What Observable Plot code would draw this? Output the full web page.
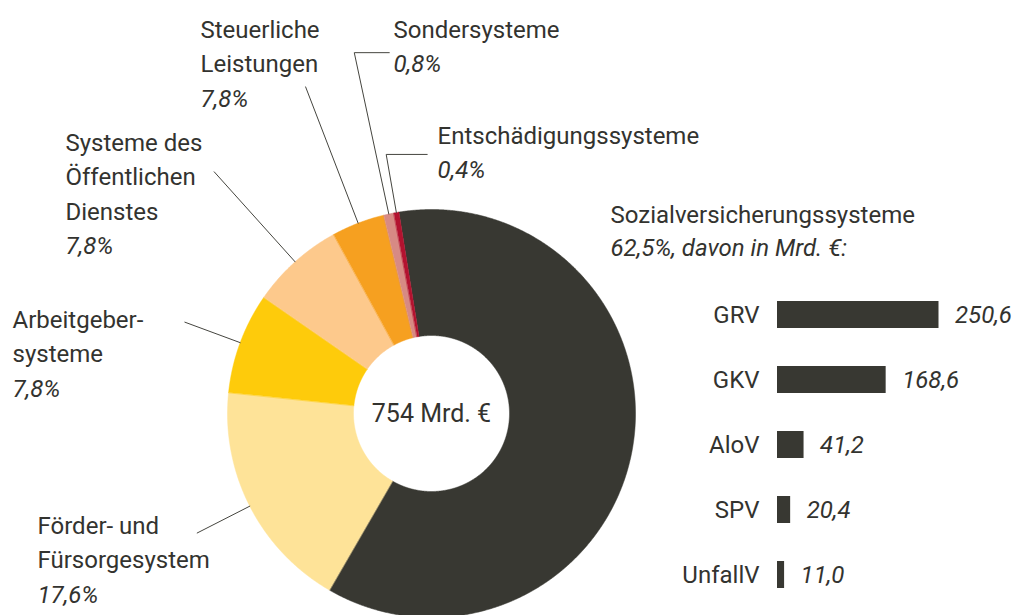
<!DOCTYPE html>
<html>
<head>
<meta charset="utf-8">
<script src="https://cdn.jsdelivr.net/npm/d3@7"></script>
<script src="https://cdn.jsdelivr.net/npm/@observablehq/plot@0.6"></script>
<style>
  body { margin: 0; background: #fff; }
  #wrap { position: relative; width: 1022px; height: 615px; overflow: hidden; font-family: Roboto, sans-serif; }
  #wrap svg { position: absolute; overflow: visible; }
</style>
</head>
<body>
<div id="wrap"></div>
<script>
// ---------- data ----------
const categories = ["Sozialversicherungssysteme", "Förder- und Fürsorgesystem", "Arbeitgebersysteme",
  "Systeme des Öffentlichen Dienstes", "Steuerliche Leistungen", "Sondersysteme", "Entschädigungssysteme"];
const labelNames = ["Sozialversicherungssysteme", "Förder- und\nFürsorgesystem", "Arbeitgeber-\nsysteme",
  "Systeme des\nÖffentlichen\nDienstes", "Steuerliche\nLeistungen", "Sondersysteme", "Entschädigungssysteme"];
const shareLabels = ["62,5%, davon in Mrd. €:", "17,6%", "7,8%", "7,8%", "7,8%", "0,8%", "0,4%"];
const sliceShares = [60.9, 18.3, 8.0, 7.4, 4.2, 0.8, 0.4]; // slice sizes as drawn in the picture
const totalLabel = "754 Mrd. €";
const branches = ["GRV", "GKV", "AloV", "SPV", "UnfallV"];
const branchValues = [250.6, 168.6, 41.2, 20.4, 11.0];
const branchLabels = ["250,6", "168,6", "41,2", "20,4", "11,0"];

// ---------- style / layout ----------
const sliceColors = ["#383832", "#fee398", "#fecb0b", "#fdc98c", "#f6a020", "#d78a84", "#b3122f"];
const textColor = "#33332f";
const W = 1022, H = 615;
const cx = 431, cy = 413, R = 204, R0 = 78;
const startDeg = -9.2;
const fs = 24, lineH = 34.5;
const labelPos = [[610, 222], [37, 533], [12, 327], [65, 150], [200, 37], [393, 37], [437, 143]]; // first baseline
const pctGap = [33, null, null, null, null, null, null];
const leaderLen = [0, 263, 263, 325, 350, 369, 263];
const leaderTail = [0, 0, 0, 0, 0, 35, 41];

// ---------- geometry from data ----------
const a0 = startDeg * Math.PI / 180;
const arcs = d3.pie().sort(null).value(d => d).startAngle(a0).endAngle(a0 + 2 * Math.PI)(sliceShares);
const slicePts = [];
arcs.forEach((a, i) => {
  const n = Math.max(2, Math.ceil((a.endAngle - a.startAngle) / 0.005));
  for (let k = 0; k <= n; k++) {
    const t = a.startAngle + (a.endAngle - a.startAngle) * k / n;
    slicePts.push({key: categories[i], x: cx + R * Math.sin(t), y: cy - R * Math.cos(t)});
  }
  for (let k = n; k >= 0; k--) {
    const t = a.startAngle + (a.endAngle - a.startAngle) * k / n;
    slicePts.push({key: categories[i], x: cx + R0 * Math.sin(t), y: cy - R0 * Math.cos(t)});
  }
});
const leaderPts = [];
arcs.forEach((a, i) => {
  if (!leaderLen[i]) return;
  const m = (a.startAngle + a.endAngle) / 2;
  const p1 = {key: categories[i], x: cx + R * Math.sin(m), y: cy - R * Math.cos(m)};
  const p2 = {key: categories[i], x: cx + leaderLen[i] * Math.sin(m), y: cy - leaderLen[i] * Math.cos(m)};
  leaderPts.push(p1, p2);
  if (leaderTail[i]) leaderPts.push({key: categories[i], x: p2.x + leaderTail[i], y: p2.y});
});
const labels = categories.map((c, i) => {
  const nLines = labelNames[i].split("\n").length;
  return {
    name: labelNames[i], pct: shareLabels[i], x: labelPos[i][0],
    yName: labelPos[i][1] + (nLines - 1) * lineH,
    yPct: labelPos[i][1] + (pctGap[i] ?? nLines * lineH)
  };
});

const wrap = document.getElementById("wrap");

const main = Plot.plot({
  width: W, height: H, margin: 0,
  x: {domain: [0, W], range: [0, W], axis: null},
  y: {domain: [0, H], range: [0, H], axis: null},
  color: {domain: categories, range: sliceColors},
  style: {background: "transparent", fontFamily: "Roboto, sans-serif"},
  marks: [
    Plot.line(slicePts, {x: "x", y: "y", z: "key", fill: "key", stroke: "key", strokeWidth: 0.5, curve: "linear-closed"}),
    Plot.line(leaderPts, {x: "x", y: "y", z: "key", stroke: "#45453f", strokeWidth: 1}),
    Plot.text([totalLabel], {x: () => cx, y: () => cy, text: d => d, fontSize: 25, fill: textColor, textAnchor: "middle", lineAnchor: "middle"}),
    Plot.text(labels, {x: "x", y: "yName", text: "name", fontSize: fs, fill: textColor, textAnchor: "start", lineAnchor: "bottom", lineHeight: lineH / fs}),
    Plot.text(labels, {x: "x", y: "yPct", text: "pct", fontSize: fs, fill: textColor, textAnchor: "start", lineAnchor: "bottom", fontStyle: "italic"})
  ]
});
main.style.left = "0px"; main.style.top = "0px";
wrap.appendChild(main);

const rows = branches.map((b, i) => ({name: b, value: branchValues[i], label: branchLabels[i]}));
const bars = Plot.plot({
  width: 362, height: 345,
  marginLeft: 117, marginRight: 83.5, marginTop: 29.25, marginBottom: 25.25,
  x: {domain: [0, 250.6], axis: null},
  y: {domain: branches, axis: null, paddingInner: 0.582, paddingOuter: 0},
  style: {background: "transparent", fontFamily: "Roboto, sans-serif"},
  marks: [
    Plot.barX(rows, {x: "value", y: "name", fill: "#383832"}),
    Plot.text(rows, {y: "name", text: "name", frameAnchor: "left", textAnchor: "end", dx: -18, fontSize: fs, fill: textColor}),
    Plot.text(rows, {x: "value", y: "name", text: "label", textAnchor: "start", dx: 16, fontSize: fs, fill: textColor, fontStyle: "italic"})
  ]
});
bars.style.left = "660px"; bars.style.top = "270px";
wrap.appendChild(bars);
</script>
</body>
</html>
